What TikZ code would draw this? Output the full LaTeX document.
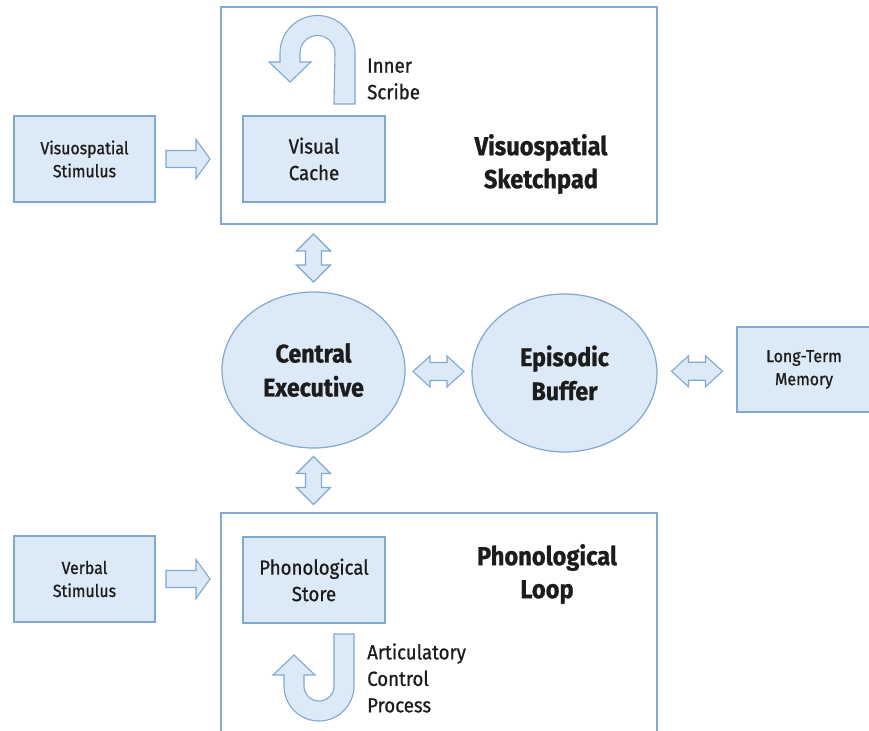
\documentclass[tikz,border=0pt]{standalone}
\usepackage{fontspec}
\setmainfont{Fira Sans}[FakeStretch=0.91,
  UprightFeatures={FakeBold=0.8},
  BoldFeatures={FakeBold=0.9}]
\usetikzlibrary{calc,shapes.geometric}
\definecolor{boxfill}{RGB}{220,233,246}
\definecolor{boxline}{RGB}{128,168,208}
\definecolor{txt}{RGB}{28,28,28}
\tikzset{
  x=1pt, y=-1pt,
  every node/.style={text=txt, inner sep=0pt},
  smalltxt/.style={font=\fontsize{17.5}{23}\selectfont, align=center},
  midtxt/.style={font=\fontsize{20.5}{26.5}\selectfont},
  titletxt/.style={font=\bfseries\fontsize{26}{33}\selectfont, align=center},
  ovaltxt/.style={font=\bfseries\fontsize{25.5}{34}\selectfont, align=center},
  panel/.style={draw=boxline, line width=1.2pt},
  block/.style={draw=boxline, fill=boxfill, line width=1.2pt},
  oval/.style={ellipse, draw=boxline, fill=boxfill, line width=1.2pt},
  blockarrow/.style={draw=boxline, fill=boxfill, line width=1.1pt, line join=miter},
  vdbl/.pic={\path[blockarrow] (0,-24) -- (17,-7) -- (8,-7) -- (8,7) -- (17,7)
      -- (0,24) -- (-17,7) -- (-8,7) -- (-8,-7) -- (-17,-7) -- cycle;},
  hdbl/.pic={\path[blockarrow] (-25.5,0) -- (-8.5,-15.5) -- (-8.5,-9) -- (8.5,-9)
      -- (8.5,-15.5) -- (25.5,0) -- (8.5,15.5) -- (8.5,9) -- (-8.5,9) -- (-8.5,15.5) -- cycle;},
  rarrow/.pic={\path[blockarrow] (-22,-8.5) -- (8,-8.5) -- (8,-19.5) -- (22,0)
      -- (8,19.5) -- (8,8.5) -- (-22,8.5) -- cycle;},
}
\begin{document}
\begin{tikzpicture}
\useasboundingbox (0,0) rectangle (869,730);
\clip (0,0) rectangle (869,730);

% outer panels of the two slave systems
\node[panel, minimum width=436pt, minimum height=217pt] (vsp) at (439,115.5) {};
\node[panel, minimum width=436pt, minimum height=260pt] (pl) at (439,643) {};

% stimuli and stores
\node[block, minimum width=141pt, minimum height=86pt, smalltxt] (vstim) at (84.5,159) {Visuospatial\\Stimulus};
\node[block, minimum width=141pt, minimum height=86pt, smalltxt] (vstim2) at (84.5,579) {Verbal\\Stimulus};
\node[block, minimum width=142pt, minimum height=86pt, midtxt, align=center] (vcache) at (314,159) {Visual\\Cache};
\node[block, minimum width=142pt, minimum height=86pt, midtxt, align=center] (pstore) at (314,580) {Phonological\\Store};
\node[block, minimum width=134pt, minimum height=85pt, smalltxt] (ltm) at (804,369.5) {Long-Term\\Memory};

% central components
\node[oval, minimum width=183pt, minimum height=156pt, ovaltxt] (ce) at (313.5,370) {Central\\Executive};
\node[oval, minimum width=185pt, minimum height=158pt, ovaltxt] (eb) at (564.5,373) {Episodic\\Buffer};

% panel titles and process labels
\node[titletxt] (vsptitle) at (541,164) {Visuospatial\\Sketchpad};
\node[titletxt] (pltitle) at (547,574) {Phonological\\Loop};
\node[midtxt, anchor=west, align=left] (scribe) at (367,79) {Inner\\Scribe};
\node[midtxt, anchor=west, align=left] (artic) at (367,678) {Articulatory\\Control\\Process};

% inner scribe: U-turn arrow
\path[blockarrow] (334,104) -- (355,104) -- (355,53)
  arc[start angle=0, end angle=-180, radius=37.5] -- (280,62) -- (269,62)
  -- (290,82) -- (311,62) -- (300,62) -- (300,53)
  arc[start angle=-180, end angle=0, radius=17.5] -- cycle;

% articulatory control process: J arrow
\path[blockarrow] (334,634) -- (354,634) -- (354,686)
  arc[start angle=0, end angle=180, radius=35] -- (284,675) -- (273,675)
  -- (294,655) -- (315,675) -- (304,675) -- (304,686)
  arc[start angle=180, end angle=0, radius=15] -- cycle;

% connectors
\pic at ($(vstim.east)!0.5!(vstim.east -| vsp.west)$) {rarrow};
\pic at ($(vstim2.east)!0.5!(vstim2.east -| pl.west)$) {rarrow};
\pic at ($(ce.north)!0.5!(ce.north |- vsp.south)$) {vdbl};
\pic at ($(ce.south)!0.5!(ce.south |- pl.north)$) {vdbl};
\pic at ($(ce.east)!0.5!(eb.west)$) {hdbl};
\pic at ($(eb.east)!0.5!(ltm.west)$) {hdbl};
\end{tikzpicture}
\end{document}
